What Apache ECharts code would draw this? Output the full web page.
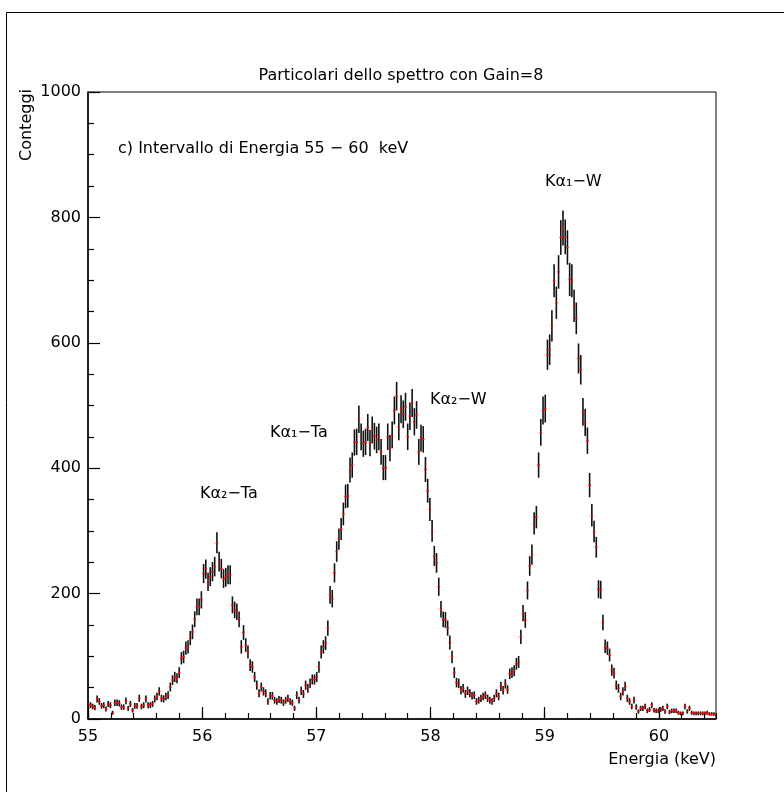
<!DOCTYPE html>
<html><head><meta charset="utf-8">
<script src="https://cdn.jsdelivr.net/npm/echarts@6/dist/echarts.min.js"></script>
<style>html,body{margin:0;padding:0;background:#fff}#c{width:784px;height:792px}</style>
</head><body><div id="c"></div>
<script>
// histogram bins (keV): first bin centre and bin width
const binStart = 55.002;
const binWidth = 0.01943;
// counts per bin, one array per keV stretch
const counts55 = [24,22,20,18,32,28,21,22,16,24,22,10,26,26,25,19,19,29,17,24,14,21,21,33,20,22,32,22,22,24,32,36,44,33,32,36,38,51,62,67,65,74,97,99,113,115,129,139,159,179,179,190];
const counts56 = [232,239,219,227,235,243,281,251,240,224,226,230,230,182,174,171,159,115,138,118,107,86,83,67,54,41,51,44,41,28,37,37,30,28,31,30,26,30,33,28,26,17,38,30,45,40,54,49,57,63,63,67];
const counts57 = [83,107,115,121,145,198,192,233,267,287,303,327,355,356,397,405,441,442,478,450,439,442,465,440,461,451,445,450,426,401,401,450,432,453,492,515,466,494,486,498,450,483,504,474,485,426,448,446,398,364,334];
const counts58 = [300,260,249,211,175,159,158,145,122,99,74,58,57,46,49,40,45,41,37,38,28,30,33,36,38,33,30,28,33,41,36,52,46,56,47,72,74,77,88,91,131,169,158,205,244,262,312,322,405,457,492,495];
const counts59 = [581,589,627,699,664,713,768,783,769,752,701,699,659,639,575,557,490,473,444,373,325,299,274,207,206,154,116,113,102,78,73,54,49,36,44,52,33,28,20,30,19,12,17,17,20,13,15,22,14,13,13,15,17];
const counts60 = [12,20,11,13,13,13,10,9,9,20,12,17,10,9,9,9,9,9,9,10,8,8,8,6];
const xTickLabels = [55,56,57,58,59,60];
const yTickLabels = [0,200,400,600,800,1000];
const peakLabels = ['K\u03b1\u2082\u2212Ta','K\u03b1\u2081\u2212Ta','K\u03b1\u2082\u2212W','K\u03b1\u2081\u2212W'];

const counts = [].concat(counts55, counts56, counts57, counts58, counts59, counts60);
const data = counts.map((c, i) => [binStart + i * binWidth, c]);

const FONT = 'DejaVu Sans';
const chart = echarts.init(document.getElementById('c'), null, {renderer: 'canvas'});
const txt = (t, x, y, extra) => Object.assign({type: 'text', x: x, y: y, z: 100,
  style: Object.assign({text: t, fill: '#000', font: '16px "' + FONT + '"', textAlign: 'left', textVerticalAlign: 'middle'}, extra || {})});

const yTitle = txt('Conteggi', 27, 89, {textAlign: 'right'});
yTitle.rotation = Math.PI / 2;

chart.setOption({
  animation: false,
  backgroundColor: '#fff',
  grid: {left: 88, top: 92, right: 68, bottom: 73, show: true, borderColor: '#000', borderWidth: 1},
  xAxis: [{
    type: 'value', min: 55, max: 60.5, interval: 1, position: 'bottom',
    axisLine: {show: true, onZero: false, lineStyle: {color: '#000', width: 1.5}},
    axisTick: {show: true, inside: true, length: 12, lineStyle: {color: '#000', width: 1.2}},
    axisLabel: {show: true, margin: 10, color: '#000', fontSize: 16, fontFamily: FONT, showMaxLabel: false,
      formatter: v => xTickLabels.indexOf(Math.round(v * 1000) / 1000) >= 0 ? String(Math.round(v)) : ''},
    splitLine: {show: false}
  }, {
    type: 'value', min: 55, max: 60.5, interval: 0.2, position: 'bottom',
    axisLine: {show: false, onZero: false},
    axisTick: {show: true, inside: true, length: 6, lineStyle: {color: '#000', width: 1.2}},
    axisLabel: {show: false}, splitLine: {show: false}
  }],
  yAxis: {
    type: 'value', min: 0, max: 1000, interval: 200,
    axisLine: {show: true, onZero: false, lineStyle: {color: '#000', width: 1.5}},
    axisTick: {show: true, inside: true, length: 12, lineStyle: {color: '#000', width: 1.2}},
    minorTick: {show: true, splitNumber: 4, length: 6, lineStyle: {color: '#000', width: 1.2}},
    axisLabel: {margin: 7, color: '#000', fontSize: 16, fontFamily: FONT,
      formatter: v => yTickLabels.indexOf(v) >= 0 ? String(v) : ''},
    splitLine: {show: false}
  },
  series: [{
    type: 'custom', xAxisIndex: 0, yAxisIndex: 0, data: data, clip: true,
    renderItem: function (params, api) {
      const x = api.value(0), y = api.value(1);
      const e = Math.sqrt(y);
      const p = api.coord([x, y]);
      const t = api.coord([x, y + e]);
      const b = api.coord([x, y - e]);
      return {type: 'group', children: [
        {type: 'line', shape: {x1: p[0], y1: t[1], x2: p[0], y2: b[1]}, style: {stroke: '#111', lineWidth: 1.6}},
        {type: 'line', shape: {x1: p[0] - 1.2, y1: p[1], x2: p[0] + 1.2, y2: p[1]}, style: {stroke: '#ff0000', lineWidth: 1.5}}
      ]};
    }
  }],
  graphic: [
    {type: 'rect', shape: {x: 6.5, y: 12.5, width: 900, height: 900}, style: {fill: 'none', stroke: '#000', lineWidth: 1}, z: 0},
    txt('Particolari dello spettro con Gain=8', 401, 76, {textAlign: 'center'}),
    txt('c) Intervallo di Energia 55 \u2212 60  keV', 118, 149),
    yTitle,
    txt('Energia (keV)', 716, 760, {textAlign: 'right'}),
    txt(peakLabels[0], 200, 494),
    txt(peakLabels[1], 270, 433),
    txt(peakLabels[2], 430, 400),
    txt(peakLabels[3], 545, 182)
  ]
});
</script>
</body></html>
